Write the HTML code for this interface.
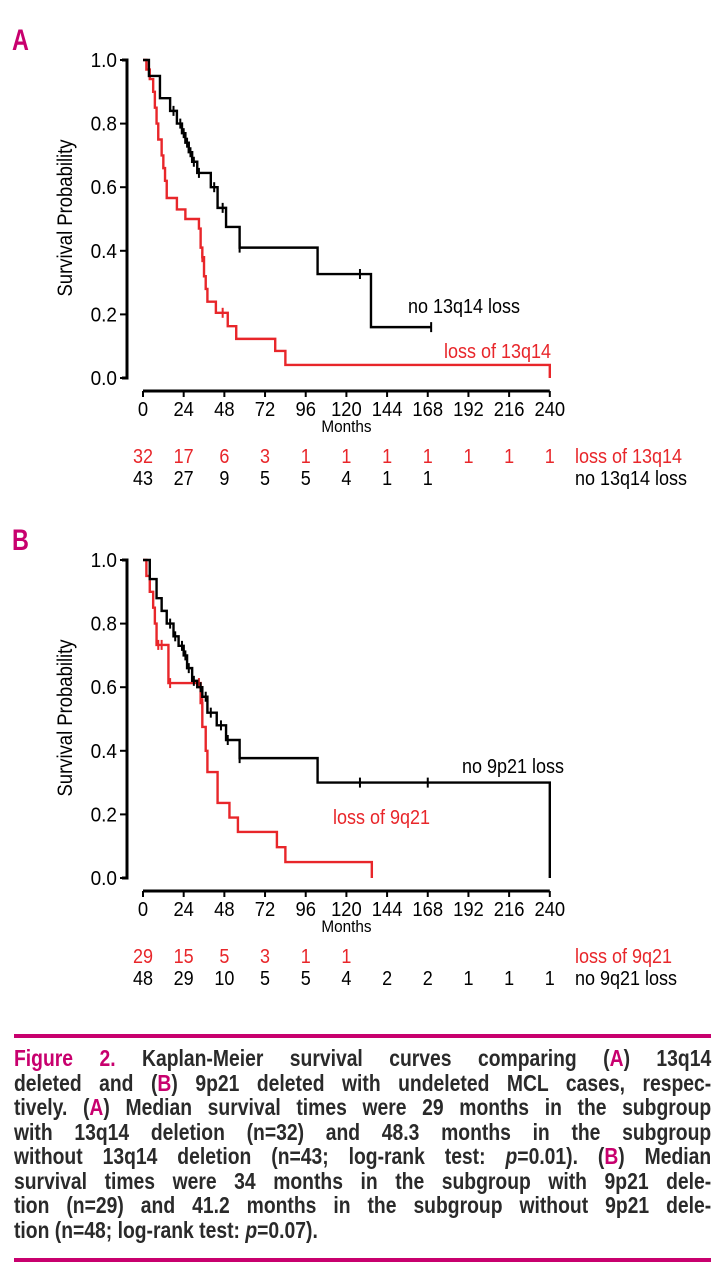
<!DOCTYPE html>
<html><head><meta charset="utf-8"><style>
body{margin:0;background:#fff;width:727px;height:1280px;overflow:hidden;position:relative;font-family:"Liberation Sans",sans-serif}
svg{position:absolute;left:0;top:0}
.capwrap{position:absolute;left:14px;top:1046px;width:830px;transform:scale(0.84,1);transform-origin:0 0}
.cap{width:830px;font-size:23px;font-weight:bold;line-height:24.5px;color:#2a2a2a}
.cap div{text-align:justify;text-align-last:justify;white-space:nowrap;height:24.5px}
.cap div.last{text-align-last:left}
.m{color:#c8006e}
.rule{position:absolute;left:14px;width:697px;height:4px;background:#c8006e}
</style></head><body>
<div class="rule" style="top:1034px"></div>
<div class="rule" style="top:1258px"></div>
<div class="capwrap"><div class="cap">
<div><span class="m">Figure 2.</span> Kaplan-Meier survival curves comparing (<span class="m">A</span>) 13q14</div>
<div>deleted and (<span class="m">B</span>) 9p21 deleted with undeleted MCL cases, respec-</div>
<div>tively. (<span class="m">A</span>) Median survival times were 29 months in the subgroup</div>
<div>with 13q14 deletion (n=32) and 48.3 months in the subgroup</div>
<div>without 13q14 deletion (n=43; log-rank test: <i>p</i>=0.01). (<span class="m">B</span>) Median</div>
<div>survival times were 34 months in the subgroup with 9p21 dele-</div>
<div>tion (n=29) and 41.2 months in the subgroup without 9p21 dele-</div>
<div class="last">tion (n=48; log-rank test: <i>p</i>=0.07).</div>
</div></div>
<svg id="s" width="727" height="1030"></svg>
<script>
const xTicks=[0,24,48,72,96,120,144,168,192,216,240];
const yTicks=[0,0.2,0.4,0.6,0.8,1.0];
const redA=[[0,1],[2,0.97],[4,0.94],[6,0.9],[7,0.85],[8,0.8],[9,0.75],[11,0.7],[12,0.66],[13,0.62],[14,0.566],[20,0.53],[25,0.5],[33,0.47],[34,0.41],[35,0.38],[36,0.32],[37,0.28],[38,0.24],[43,0.205],[50,0.163],[55,0.123],[78,0.085],[84,0.041],[240,0]];
const redAEnd=240;
const redACens=[[35,0.38],[47,0.205]];
const blackA=[[0,1],[3.5,0.95],[10,0.88],[16,0.84],[20,0.8],[23,0.77],[25,0.74],[27,0.71],[29,0.68],[32,0.645],[40,0.6],[44,0.535],[49,0.475],[57,0.41],[103,0.327],[134.5,0.16]];
const blackAEnd=170;
const blackACens=[[18,0.84],[22,0.8],[24,0.77],[26,0.74],[28,0.71],[30,0.68],[33,0.645],[42,0.6],[47,0.535],[57,0.41],[128,0.327],[170,0.16]];
const redB=[[0,1],[2,0.95],[4,0.9],[6,0.85],[7,0.8],[8,0.733],[15,0.613],[34,0.55],[35,0.475],[37,0.4],[38,0.333],[44,0.236],[51,0.19],[56,0.145],[79,0.097],[84,0.05],[135,0]];
const redBEnd=135;
const redBCens=[[9,0.733],[11,0.733],[16,0.613],[33,0.613],[35,0.55]];
const blackB=[[0,1],[4,0.94],[8,0.88],[11,0.84],[14,0.8],[18,0.76],[21,0.73],[24,0.7],[26,0.66],[29,0.62],[32,0.6],[35,0.57],[38,0.52],[43.5,0.48],[49,0.434],[57,0.377],[103,0.3],[240,0]];
const blackBEnd=240;
const blackBCens=[[16,0.8],[19,0.76],[23,0.73],[25,0.7],[27,0.66],[30,0.62],[34,0.6],[37,0.57],[40,0.52],[46,0.48],[50,0.434],[57,0.377],[128,0.3],[168,0.3]];
const riskRedA=[32,17,6,3,1,1,1,1,1,1,1];
const riskBlackA=[43,27,9,5,5,4,1,1];
const riskRedB=[29,15,5,3,1,1];
const riskBlackB=[48,29,10,5,5,4,2,2,1,1,1];
const RED="#e8262a",MAG="#c8006e";
const svg=document.getElementById('s');
function el(t,a,txt){const e=document.createElementNS('http://www.w3.org/2000/svg',t);for(const k in a)e.setAttribute(k,a[k]);if(txt!==undefined)e.textContent=txt;svg.appendChild(e);return e;}
const FONT='"Liberation Sans",sans-serif';
function tx(x,y,s,opts,name){
  const a={transform:`translate(${x} ${y}) scale(${opts.sx||0.9} 1)`,'font-size':opts.size||20,'font-family':FONT,fill:opts.fill||'#000'};
  if(opts.anchor)a['text-anchor']=opts.anchor;
  if(opts.weight)a['font-weight']=opts.weight;
  const t=el('text',a,s);
  
  
  return t;
}
function panel(off,letter,red,redEnd,redC,black,blackEnd,blackC,rr,rb,redLbl,blackLbl,rl,bl,curveBlackLbl){
  const X=m=>143+m*1.695, Y=s=>off+378-s*318;
  tx(12,off+50,letter,{size:30,fill:MAG,weight:'bold',sx:0.78},'panel-label');
  let ax=el('path',{d:`M122 ${Y(1)}H127V${Y(0)}H122`,stroke:'#000','stroke-width':3,fill:'none'});
  
  
  yTicks.forEach(v=>{el('line',{x1:120,x2:127,y1:Y(v),y2:Y(v),stroke:'#000','stroke-width':2});
    tx(117,Y(v)+7,v.toFixed(1),{anchor:'end',sx:0.95},'y-tick-label');});
  let yt=el('text',{transform:`translate(72 ${off+218}) rotate(-90) scale(0.88 1)`,'text-anchor':'middle','font-size':21,'font-family':FONT},'Survival Probability');
  
  
  const xa=off+391;
  let xl=el('line',{x1:X(0),x2:X(240),y1:xa,y2:xa,stroke:'#000','stroke-width':3});
  
  
  xTicks.forEach((v,i)=>{el('line',{x1:X(v),x2:X(v),y1:xa,y2:xa+6,stroke:'#000','stroke-width':2});
    tx(X(v),xa+25,String(v),{anchor:'middle',sx:0.92},'x-tick-label');
    if(rr[i]!==undefined)tx(X(v),off+463,String(rr[i]),{anchor:'middle',fill:RED},'risk-count-red');
    if(rb[i]!==undefined)tx(X(v),off+485,String(rb[i]),{anchor:'middle'},'risk-count-black');
  });
  tx(X(120),xa+41,'Months',{anchor:'middle',size:17},'x-axis-title');
  tx(575,off+463,redLbl,{fill:RED},'risk-label-red');
  tx(575,off+485,blackLbl,{},'risk-label-black');
  function curve(pts,end,cens,col,name){
    let d=`M${X(pts[0][0])} ${Y(pts[0][1])}`;
    for(let i=1;i<pts.length;i++){d+=`H${X(pts[i][0])}V${Y(pts[i][1])}`;}
    d+=`H${X(end)}`;
    let p=el('path',{d,stroke:col,'stroke-width':2.4,fill:'none'});
    
    
    cens.forEach(c=>{let m=el('line',{x1:X(c[0]),x2:X(c[0]),y1:Y(c[1])-5,y2:Y(c[1])+5,stroke:col,'stroke-width':2});
      
      });
  }
  curve(red,redEnd,redC,RED,'red-survival-curve');
  curve(black,blackEnd,blackC,'#000','black-survival-curve');
  tx(bl[0],off+bl[1],curveBlackLbl,{},'black-curve-label');
  tx(rl[0],off+rl[1],redLbl,{fill:RED},'red-curve-label');
}
panel(0,'A',redA,redAEnd,redACens,blackA,blackAEnd,blackACens,riskRedA,riskBlackA,'loss of 13q14','no 13q14 loss',[444,358],[408,313],'no 13q14 loss');
panel(500,'B',redB,redBEnd,redBCens,blackB,blackBEnd,blackBCens,riskRedB,riskBlackB,'loss of 9q21','no 9q21 loss',[333,324],[462,273],'no 9p21 loss');
</script>
</body></html>
